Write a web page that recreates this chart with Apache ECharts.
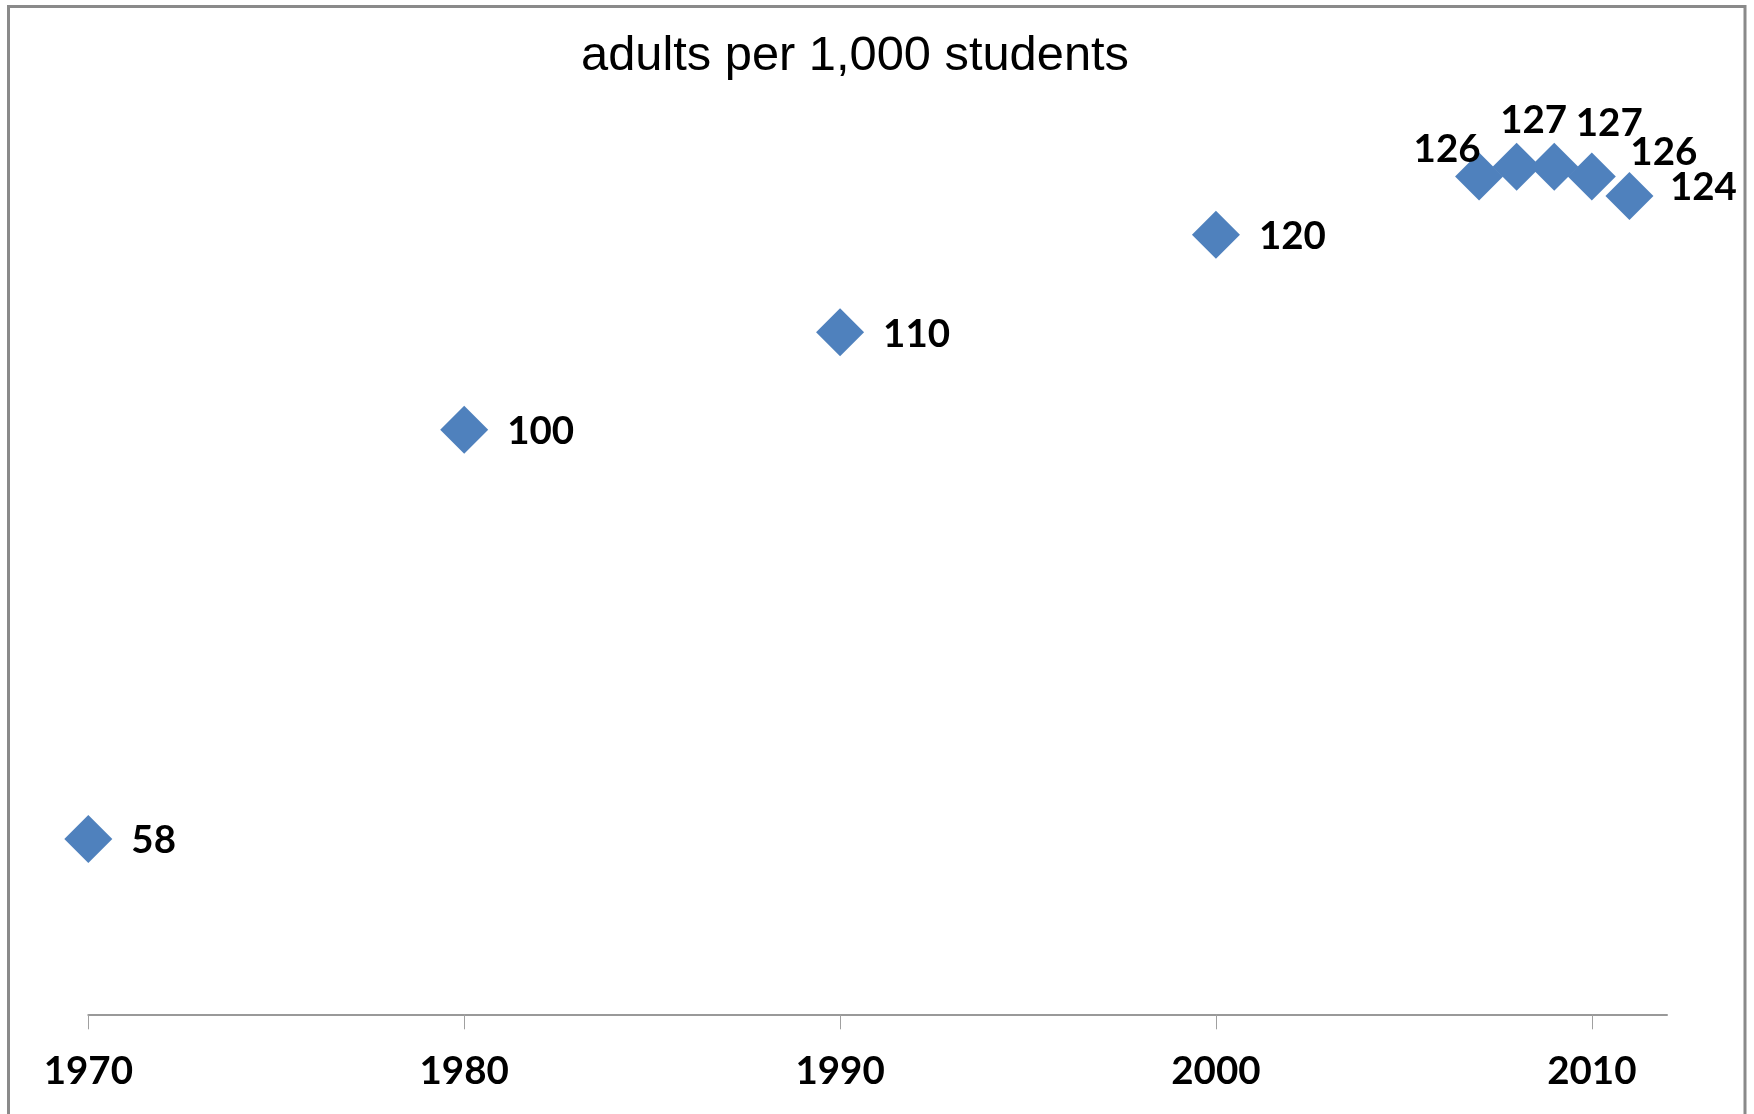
<!DOCTYPE html>
<html>
<head>
<meta charset="utf-8">
<script src="https://cdn.jsdelivr.net/npm/echarts@6/dist/echarts.min.js"></script>
<style>
  html, body { margin: 0; padding: 0; background: #ffffff; }
  #chart { width: 1754px; height: 1114px; }
</style>
</head>
<body>
<div id="chart"></div>
<script>
// Adults per 1,000 students, by school year
const years = [1970, 1980, 1990, 2000, 2007, 2008, 2009, 2010, 2011];
const adultsPerThousand = [58, 100, 110, 120, 126, 127, 127, 126, 124];
const yearTicks = [1970, 1980, 1990, 2000, 2010];
const subtitleText = 'adults per 1,000 students';

// Hand-placed labels for the crowded recent years (offsets from marker centre, px)
const crowdedLabelOffsets = {
  2007: [-32, -27],
  2008: [17, -46],
  2009: [55, -43],
  2010: [72, -24],
  2011: [74, -8]
};

const labelFont = { fontFamily: 'Lato', fontWeight: 'bold', fontSize: 38.5, color: '#000000' };

const points = years.map((yr, i) => {
  const item = { value: [yr, adultsPerThousand[i]] };
  if (crowdedLabelOffsets[yr]) {
    item.label = { position: 'inside', offset: crowdedLabelOffsets[yr] };
  }
  return item;
});

const chart = echarts.init(document.getElementById('chart'), null, { renderer: 'canvas' });

chart.setOption({
  animation: false,
  backgroundColor: '#ffffff',
  graphic: [
    {
      type: 'rect',
      z: -10,
      shape: { x: 8.5, y: 6.5, width: 1736.5, height: 1200 },
      style: { fill: 'none', stroke: '#8a8a8a', lineWidth: 3 }
    },
    {
      type: 'text',
      x: 855,
      y: 57,
      style: {
        text: subtitleText,
        font: '48.8px "Liberation Sans", Arial, sans-serif',
        fill: '#000000',
        textAlign: 'center',
        textVerticalAlign: 'middle'
      }
    }
  ],
  grid: { left: 88.3, right: 87, top: 40, bottom: 99.7, containLabel: false },
  xAxis: {
    type: 'value',
    min: 1970,
    max: 2012,
    splitLine: { show: false },
    axisLine: { show: true, lineStyle: { color: '#999999', width: 2 } },
    axisTick: {
      show: true,
      customValues: yearTicks,
      length: 15,
      lineStyle: { color: '#a0a0a0', width: 1 }
    },
    axisLabel: {
      customValues: yearTicks,
      margin: 38,
      formatter: v => String(v),
      ...labelFont
    }
  },
  yAxis: {
    type: 'value',
    min: 40,
    max: 140,
    show: false,
    splitLine: { show: false }
  },
  series: [
    {
      type: 'scatter',
      symbol: 'diamond',
      symbolSize: 48,
      itemStyle: { color: '#4F81BD', opacity: 1 },
      label: {
        show: true,
        position: 'right',
        distance: 19,
        offset: [0, 2],
        formatter: p => String(p.value[1]),
        ...labelFont
      },
      data: points
    }
  ]
});
</script>
</body>
</html>
